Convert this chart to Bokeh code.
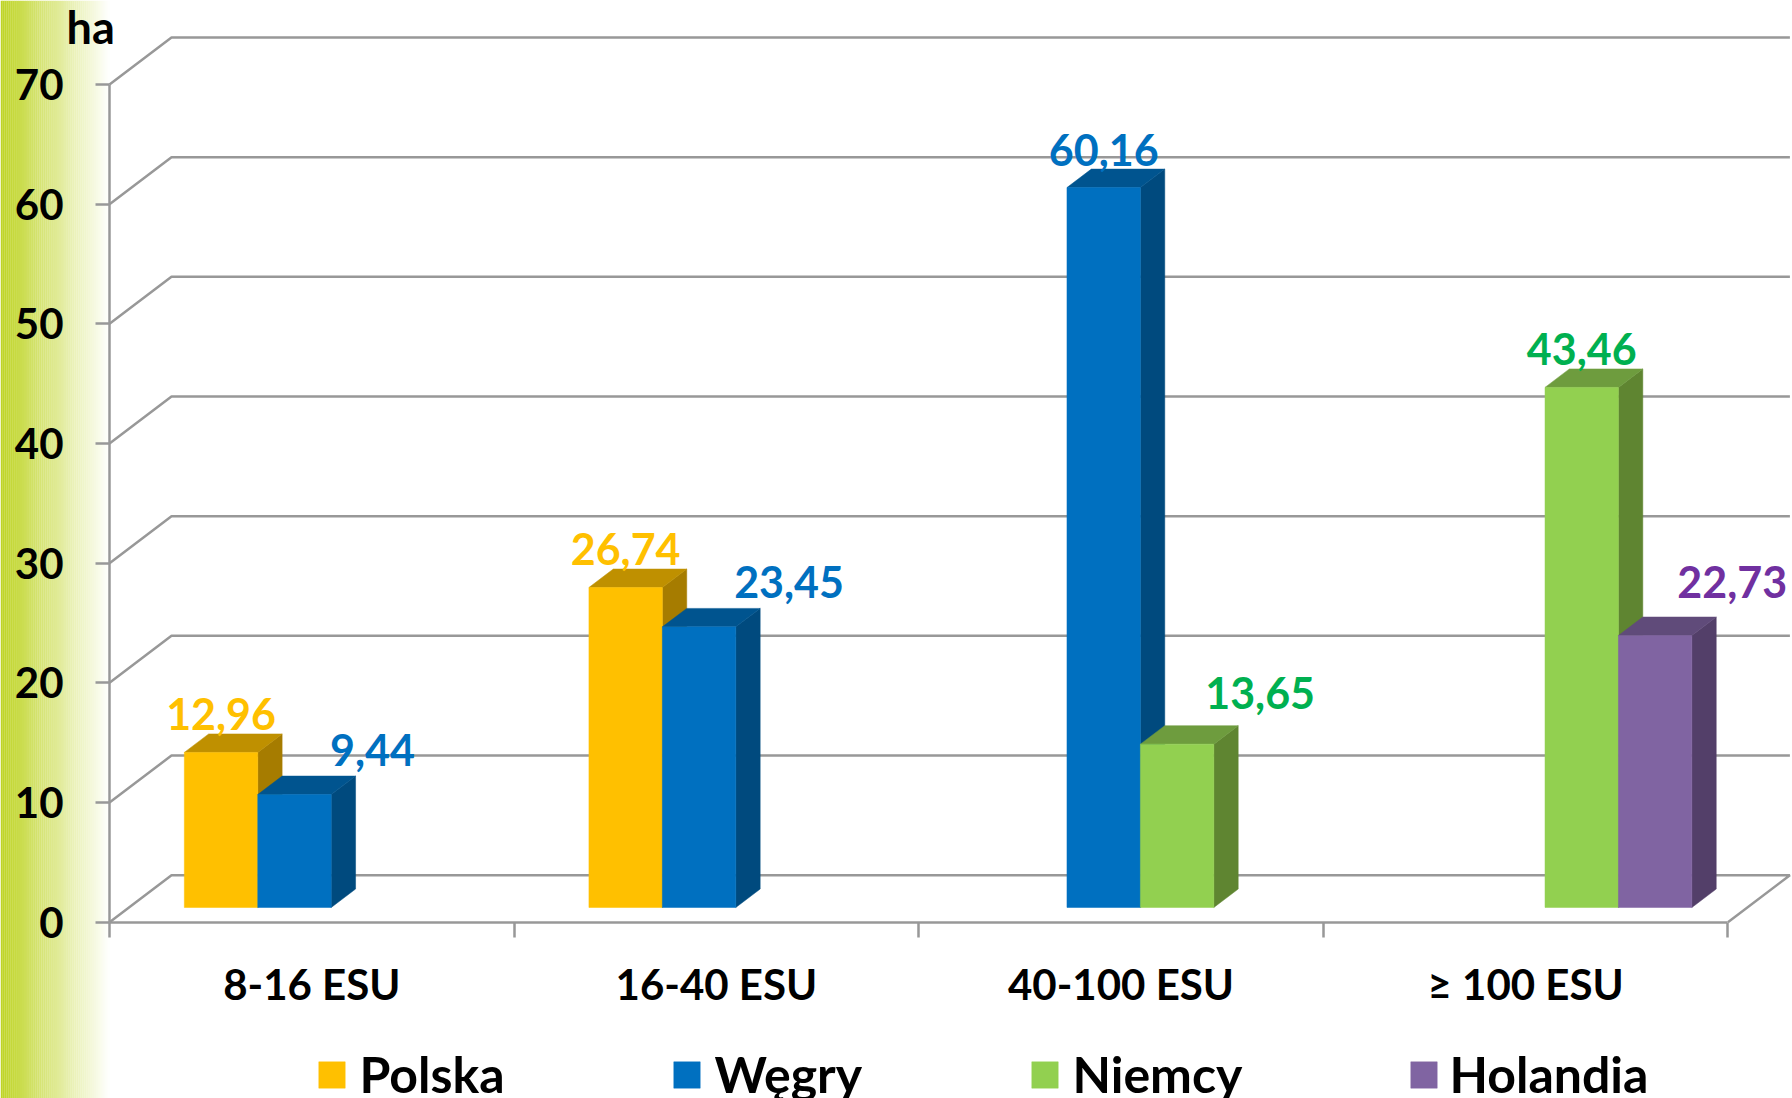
from bokeh.embed import file_html
from bokeh.resources import INLINE
from bokeh.plotting import figure
from bokeh.models import (ColumnDataSource, FixedTicker, Label, Legend, LegendItem,
                          LinearAxis, Range1d)
from bokeh.core.properties import value

# ---------- data ----------
categories = ["8-16 ESU", "16-40 ESU", "40-100 ESU", "≥ 100 ESU"]
polska = [12.96, 26.74, None, None]
wegry = [9.44, 23.45, 60.16, None]
niemcy = [None, None, 13.65, 43.46]
holandia = [None, None, None, 22.73]
series_names = ["Polska", "Węgry", "Niemcy", "Holandia"]
series_values = [polska, wegry, niemcy, holandia]
y_ticks = [0, 10, 20, 30, 40, 50, 60, 70]
unit_label = "ha"

# ---------- styles ----------
FONT = "Lato"
W, H = 1792, 1098
PX_CAT = 404.6        # px per category
PX_VAL = 11.967       # px per value unit
ORIGIN_X, ORIGIN_Y = 109, 921.7
DEPTH_X = 62 / PX_CAT
DEPTH_Y = 47 / PX_VAL
BAR_W = 0.1815
GAP = (1 - 4 * BAR_W) / 2
D0, D1 = 0.313, 0.706
GRID = "#989898"
front_colors = ["#FFC000", "#0070C0", "#92D050", "#8064A2"]
top_colors = ["#BF9000", "#00548F", "#6E9C3E", "#604B7A"]
side_colors = ["#A67C00", "#004A7E", "#5F8531", "#533F69"]
label_colors = ["#FFC000", "#0070C0", "#00B050", "#7030A0"]
# screen offsets of the value labels from the top-centre of each bar front
label_offsets = {
    (0, 0): (0, -38), (1, 0): (78, -45),
    (0, 1): (0, -38), (1, 1): (90, -45),
    (1, 2): (0, -38), (2, 2): (83, -51),
    (2, 3): (0, -38), (3, 3): (77, -53),
}
legend_pos = [(316, 359), (671, 714), (1029, 1072), (1408, 1450)]
GLYPH = 33

p = figure(
    width=W, height=H, output_backend="svg", toolbar_location=None,
    x_axis_location=None, y_axis_location=None,
    x_range=Range1d(-ORIGIN_X / PX_CAT, (W - ORIGIN_X) / PX_CAT),
    y_range=Range1d(-(H - ORIGIN_Y) / PX_VAL, ORIGIN_Y / PX_VAL),
    min_border=0, min_border_left=0, min_border_right=0, min_border_top=0, min_border_bottom=0,
    outline_line_color=None, background_fill_color="white", border_fill_color="white",
    margin=0,
)
p.grid.visible = False
x_left, y_bot, y_top = p.x_range.start, p.y_range.start, p.y_range.end

# left gradient band
N = 56
band_w = ORIGIN_X / PX_CAT / N
c0 = (190, 212, 36)
for i in range(N):
    t = (i + 0.5) / N
    col = tuple(int(round(c + (255 - c) * t)) for c in c0)
    p.quad(left=x_left + i * band_w, right=x_left + (i + 1) * band_w + 0.0005,
           bottom=y_bot, top=y_top, fill_color="#%02x%02x%02x" % col, line_color=None)

# 3-D walls: gridlines
n_cat = len(categories)
for v in y_ticks:
    if v == 0:
        xs = [0, DEPTH_X, n_cat + DEPTH_X, n_cat]
        ys = [0, DEPTH_Y, DEPTH_Y, 0]
    else:
        xs = [0, DEPTH_X, n_cat + DEPTH_X]
        ys = [v, v + DEPTH_Y, v + DEPTH_Y]
    p.line(xs, ys, line_color=GRID, line_width=2.5)

# bars
fronts = []
for s, (name, vals) in enumerate(zip(series_names, series_values)):
    rows = [(c, v) for c, v in enumerate(vals) if v is not None]
    l0 = [c + GAP + s * BAR_W + D0 * DEPTH_X for c, _ in rows]
    r0 = [x + BAR_W for x in l0]
    b0 = [D0 * DEPTH_Y for _ in rows]
    t0 = [v + D0 * DEPTH_Y for _, v in rows]
    dx = (D1 - D0) * DEPTH_X
    dy = (D1 - D0) * DEPTH_Y
    p.patches([[r, r + dx, r + dx, r] for r in r0],
              [[b, b + dy, t + dy, t] for b, t in zip(b0, t0)],
              fill_color=side_colors[s], line_color=side_colors[s], line_width=0.5)
    p.patches([[l, l + dx, r + dx, r] for l, r in zip(l0, r0)],
              [[t, t + dy, t + dy, t] for t in t0],
              fill_color=top_colors[s], line_color=top_colors[s], line_width=0.5)
    fr = p.quad(left=l0, right=r0, bottom=b0, top=t0,
                fill_color=front_colors[s], line_color=front_colors[s], line_width=0.5)
    fronts.append(fr)
    src = ColumnDataSource(dict(
        x=[(l + r) / 2 for l, r in zip(l0, r0)], y=t0,
        text=[f"{v:.2f}".replace(".", ",") for _, v in rows],
        dx=[label_offsets[(s, c)][0] for c, _ in rows],
        dy=[label_offsets[(s, c)][1] for c, _ in rows],
    ))
    p.text(x="x", y="y", text="text", x_offset="dx", y_offset="dy", source=src,
           text_color=label_colors[s], text_font=value(FONT), text_font_style="bold",
           text_font_size="43px", text_align="center", text_baseline="middle")

# axes
yax = LinearAxis(fixed_location=0, bounds=(0, 70), ticker=FixedTicker(ticks=y_ticks))
yax.axis_line_color = GRID
yax.axis_line_width = 2.5
yax.major_tick_line_color = GRID
yax.major_tick_line_width = 2.5
yax.major_tick_out = 14
yax.major_tick_in = 0
yax.minor_tick_line_color = None
yax.major_label_standoff = 32
yax.major_label_text_font = FONT
yax.major_label_text_font_style = "bold"
yax.major_label_text_font_size = "42px"
yax.major_label_text_color = "black"
p.add_layout(yax, "left")

centers = [c + 0.5 for c in range(n_cat)]
edges = list(range(n_cat + 1))
xax = LinearAxis(fixed_location=0, bounds=(0, n_cat), ticker=FixedTicker(ticks=edges),
                 major_label_overrides={e: "" for e in edges})
xax.axis_line_color = GRID
xax.axis_line_width = 2.5
xax.major_tick_line_color = GRID
xax.major_tick_line_width = 2.5
xax.major_tick_out = 15
xax.major_tick_in = 0
xax.minor_tick_line_color = None
p.add_layout(xax, "below")

xlab = LinearAxis(fixed_location=0, ticker=FixedTicker(ticks=centers),
                  major_label_overrides={c: t for c, t in zip(centers, categories)})
xlab.axis_line_color = None
xlab.major_tick_line_color = None
xlab.minor_tick_line_color = None
xlab.major_label_standoff = 31
xlab.major_label_text_font = FONT
xlab.major_label_text_font_style = "bold"
xlab.major_label_text_font_size = "42px"
xlab.major_label_text_color = "black"
p.add_layout(xlab, "below")

p.add_layout(Label(x=66, y=H - 53, x_units="screen", y_units="screen", text=unit_label,
                   text_font=FONT, text_font_style="bold", text_font_size="45px",
                   text_color="black"))

# legend
for s, name in enumerate(series_names):
    sq_x, txt_x = legend_pos[s]
    lg = Legend(items=[LegendItem(label=name, renderers=[fronts[s]])],
                location=(sq_x - 1.5, -6), orientation="horizontal",
                glyph_width=GLYPH, glyph_height=GLYPH,
                label_standoff=int(round(txt_x - (sq_x - 1.5) - GLYPH)),
                padding=0, margin=0, border_line_color=None, background_fill_alpha=0,
                label_text_font=FONT, label_text_font_style="bold",
                label_text_font_size="50px", label_text_color="black")
    p.add_layout(lg)

open("out.html", "w").write(file_html(p, INLINE))
